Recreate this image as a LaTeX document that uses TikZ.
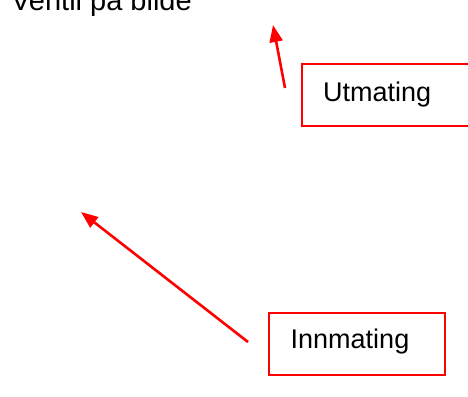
\documentclass[tikz,border=0pt]{standalone}
\usepackage{fontspec}
\setmainfont{Liberation Sans}
\usetikzlibrary{arrows.meta}
\begin{document}
\begin{tikzpicture}[x=1pt,y=-1pt,
  redbox/.style={draw=red,line width=2pt,rectangle,inner sep=0pt},
  lbl/.style={anchor=base west,inner sep=0pt,font=\fontsize{27}{32}\selectfont},
  pointer/.style={draw=red,line width=2.6pt,-{Triangle[length=17pt,width=13pt]}}]
\useasboundingbox (0,0) rectangle (468,396);
% title (partly cut off at top)
\node[lbl,font=\fontsize{29}{34}\selectfont] (title) at (11,11) {Ventil på bilde};
% Utmating box
\node[redbox,minimum width=176pt,minimum height=62pt,anchor=north west] (utbox) at (300.7,63) {};
\node[lbl] (uttext) at (323,101) {Utmating};
% Innmating box
\node[redbox,minimum width=176pt,minimum height=62pt,anchor=north west] (innbox) at (267.7,312) {};
\node[lbl] (inntext) at (290.5,348) {Innmating};
% arrows
\coordinate (utstart) at (285,88);
\coordinate (uttip) at (273,25);
\coordinate (innstart) at (248,342);
\coordinate (inntip) at (81,212);
\draw[pointer] (utstart) -- (uttip);
\draw[pointer] (innstart) -- (inntip);
\end{tikzpicture}
\end{document}
